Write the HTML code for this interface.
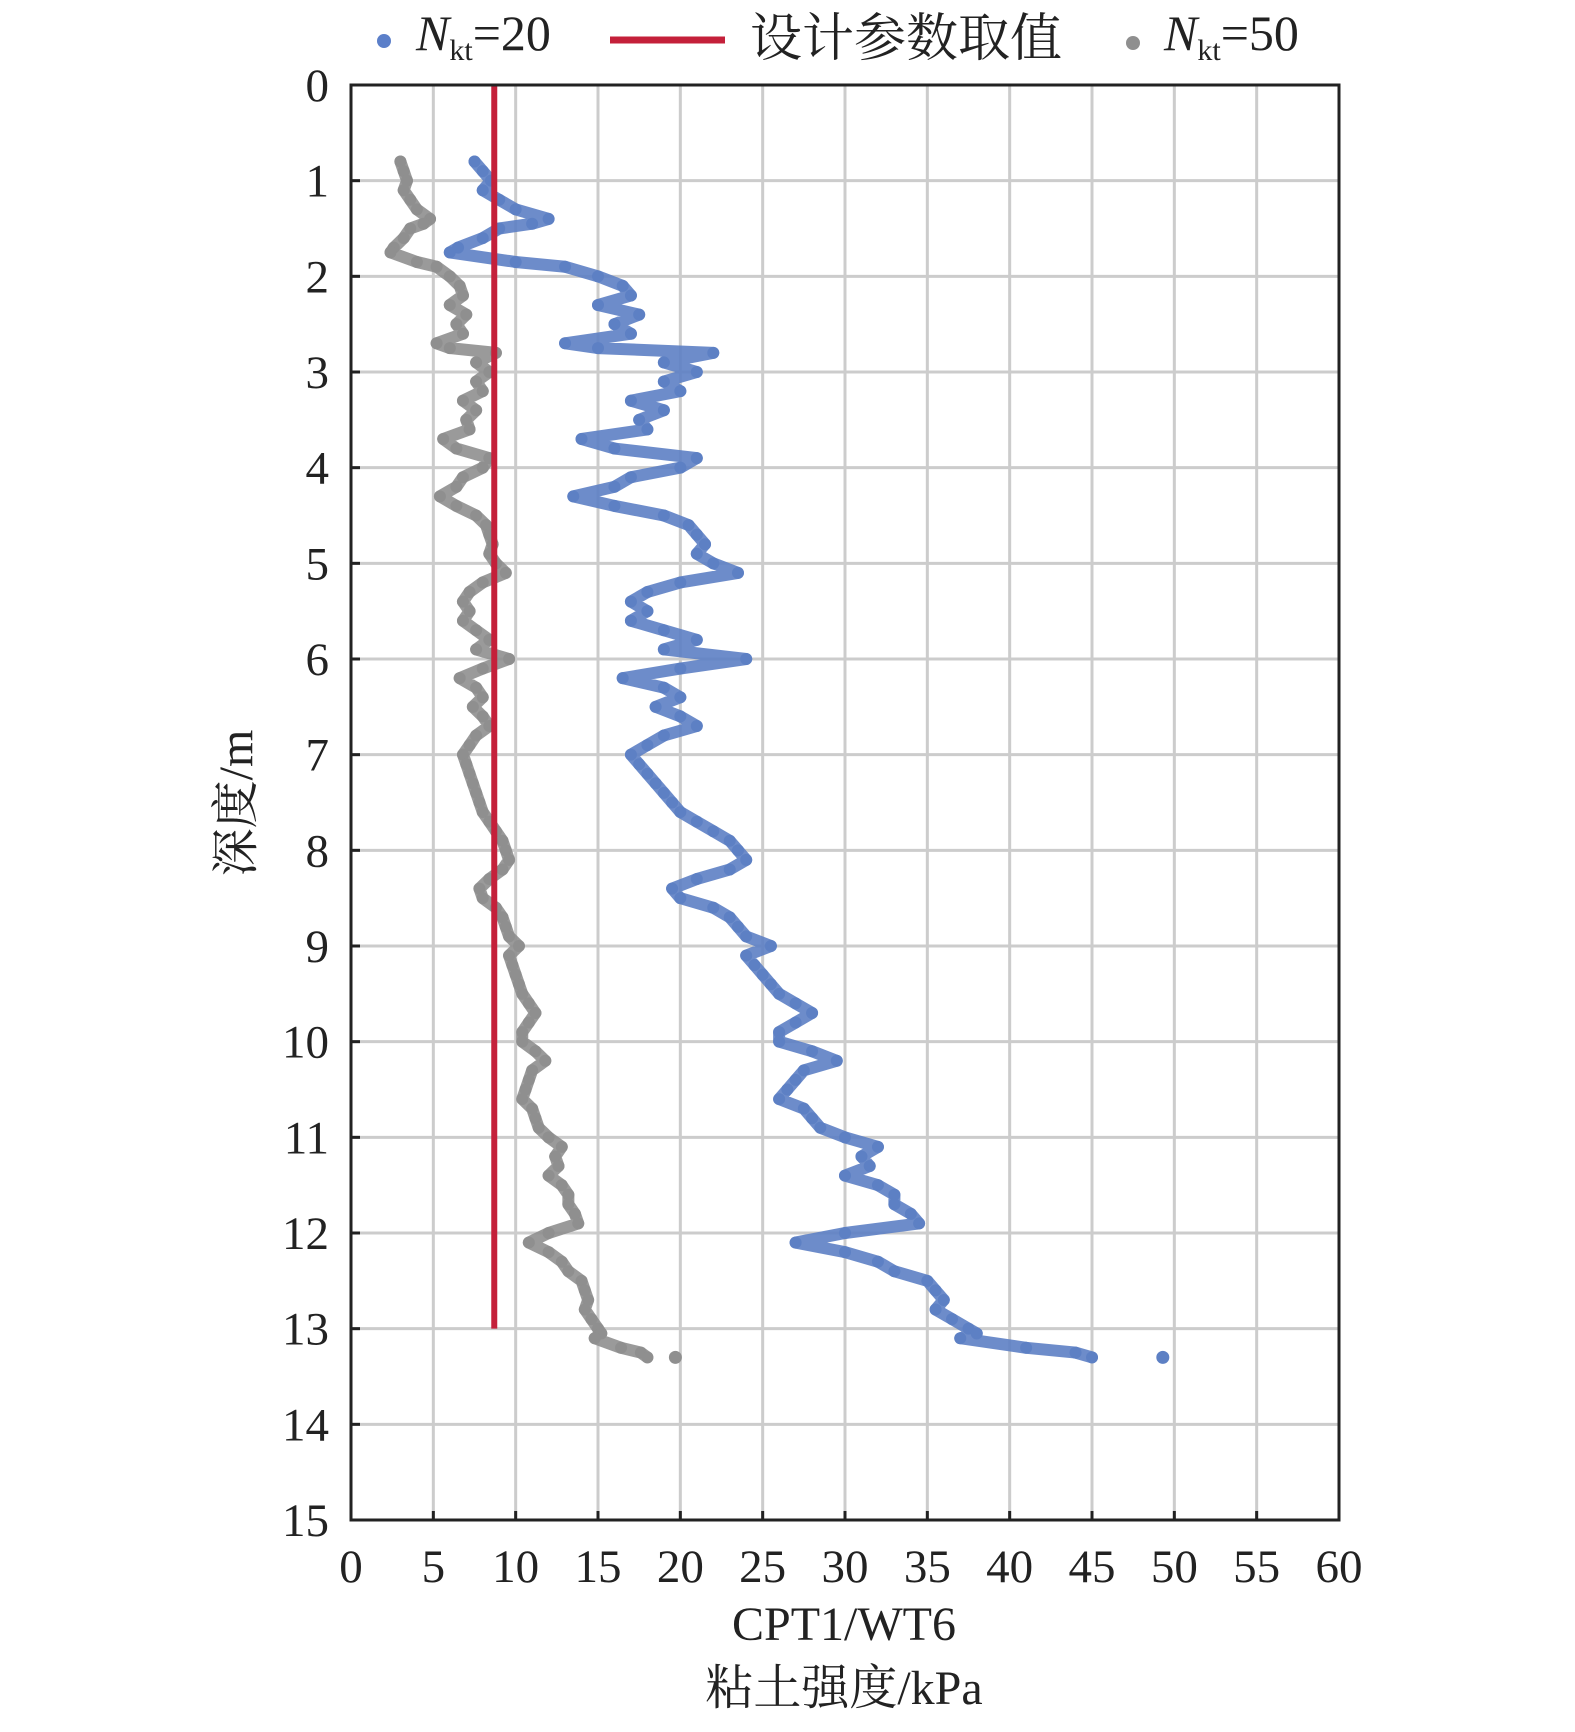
<!DOCTYPE html>
<html><head><meta charset="utf-8">
<style>
html,body{margin:0;padding:0;background:#fff;}
svg{display:block;}
svg text{font-family:"Liberation Serif","Noto Serif CJK SC",serif;}
</style></head>
<body>
<svg id="chart" width="1575" height="1732" viewBox="0 0 1575 1732" xmlns="http://www.w3.org/2000/svg">
<g id="grid"></g>
<g id="series"></g>
<g id="axes"></g>
<g id="legend">
  <circle cx="384" cy="41" r="7" fill="#5b7fc9"/>
  <text x="416" y="50" font-size="50" fill="#222"><tspan font-style="italic">N</tspan><tspan font-size="30" dy="10">kt</tspan><tspan dy="-10">=20</tspan></text>
  <line x1="610" y1="40" x2="725" y2="40" stroke="#c4203a" stroke-width="7"/>
  <text x="750" y="56" font-size="52" fill="#222">设计参数取值</text>
  <circle cx="1133" cy="43" r="7" fill="#8f8f8f"/>
  <text x="1164" y="50" font-size="50" fill="#222"><tspan font-style="italic">N</tspan><tspan font-size="30" dy="10">kt</tspan><tspan dy="-10">=50</tspan></text>
</g>
<text x="844" y="1640" font-size="48" text-anchor="middle" fill="#222">CPT1/WT6</text>
<text x="844" y="1704" font-size="48" text-anchor="middle" fill="#222">粘土强度/kPa</text>
<text transform="translate(252,803) rotate(-90)" font-size="48" text-anchor="middle" fill="#222">深度/m</text>
</svg>
<script>
const depths = [0.8,0.9,1.0,1.1,1.2,1.3,1.4,1.45,1.5,1.6,1.7,1.75,1.85,1.9,2.0,2.1,2.2,2.3,2.4,2.5,2.6,2.7,2.75,2.8,2.9,3.0,3.1,3.2,3.3,3.4,3.5,3.6,3.7,3.8,3.9,4.0,4.1,4.2,4.3,4.4,4.5,4.6,4.7,4.8,4.9,5.0,5.1,5.2,5.3,5.4,5.5,5.6,5.7,5.8,5.9,6.0,6.1,6.2,6.3,6.4,6.5,6.6,6.7,6.8,6.9,7.0,7.1,7.2,7.3,7.4,7.5,7.6,7.7,7.8,7.9,8.0,8.1,8.2,8.3,8.4,8.5,8.6,8.7,8.8,8.9,9.0,9.1,9.2,9.3,9.4,9.5,9.6,9.7,9.8,9.9,10.0,10.1,10.2,10.3,10.4,10.5,10.6,10.7,10.8,10.9,11.0,11.1,11.2,11.3,11.4,11.5,11.6,11.7,11.8,11.9,12.0,12.1,12.2,12.3,12.4,12.5,12.6,12.7,12.8,12.9,13.0,13.05,13.1,13.2,13.25,13.3];
const nkt20 = [7.5,8,8.5,8,9,10,12,11,9,8,6.5,6,10,13,15,16.5,17,15,17.5,16,17,13,15,22,19,21,19,20,17,19,17.5,18,14,16,21,20,17,16,13.5,16,19,20.5,21,21.5,21,22,23.5,20,18,17,18,17,19,21,19,24,20,16.5,19,20,18.5,20,21,19,18,17,17.5,18,18.5,19,19.5,20,21,22,23,23.5,24,23,21,19.5,20,22,23,23.5,24,25.5,24,24.5,25,25.5,26,27,28,27,26,26,28,29.5,27.5,27,26.5,26,27.5,28,28.5,30,32,31,31.5,30,32,33,33,34,34.5,30,27,30,32,33,35,35.5,36,35.5,36.5,37.5,38,37,41,44,45];
const nkt50 = [3.0,3.2,3.4,3.2,3.6,4.0,4.8,4.4,3.6,3.2,2.6,2.4,4.0,5.2,6.0,6.6,6.8,6.0,7.0,6.4,6.8,5.2,6.0,8.8,7.6,8.4,7.6,8.0,6.8,7.6,7.0,7.2,5.6,6.4,8.4,8.0,6.8,6.4,5.4,6.4,7.6,8.2,8.4,8.6,8.4,8.8,9.4,8.0,7.2,6.8,7.2,6.8,7.6,8.4,7.6,9.6,8.0,6.6,7.6,8.0,7.4,8.0,8.4,7.6,7.2,6.8,7.0,7.2,7.4,7.6,7.8,8.0,8.4,8.8,9.2,9.4,9.6,9.2,8.4,7.8,8.0,8.8,9.2,9.4,9.6,10.2,9.6,9.8,10.0,10.2,10.4,10.8,11.2,10.8,10.4,10.4,11.2,11.8,11.0,10.8,10.6,10.4,11.0,11.2,11.4,12.0,12.8,12.4,12.6,12.0,12.8,13.2,13.2,13.6,13.8,12.0,10.8,12.0,12.8,13.2,14.0,14.2,14.4,14.2,14.6,15.0,15.2,14.8,16.4,17.6,18.0];
const outlierDepths = [13.3];
const nkt20Outliers = [49.3];
const nkt50Outliers = [19.7];
const designValue = [8.7];
const designDepthRange = [0, 13];
const xTicks = [0,5,10,15,20,25,30,35,40,45,50,55,60];
const yTicks = [0,1,2,3,4,5,6,7,8,9,10,11,12,13,14,15];

const L=351,R=1339,T=85,B=1520;
const xs=v=>L+(v-0)/(60-0)*(R-L);
const ys=d=>T+(d-0)/(15-0)*(B-T);
const NS="http://www.w3.org/2000/svg";
function mk(tag,parent,attrs){const e=document.createElementNS(NS,tag);for(const k in attrs)e.setAttribute(k,attrs[k]);parent.appendChild(e);return e;}
const grid=document.getElementById('grid'),series=document.getElementById('series'),axes=document.getElementById('axes');

xTicks.forEach(t=>{
  const l=mk('line',grid,{x1:xs(t),x2:xs(t),y1:T,y2:B,stroke:'#cccccc','stroke-width':3});
  
  
  const tx=mk('text',axes,{x:xs(t),y:1582,'font-size':47,'text-anchor':'middle',fill:'#222'});
  tx.textContent=t;
  
  
  const tk=mk('line',axes,{x1:xs(t),x2:xs(t),y1:B,y2:B-9,stroke:'#222','stroke-width':3});
  
  
});
yTicks.forEach(t=>{
  const l=mk('line',grid,{x1:L,x2:R,y1:ys(t),y2:ys(t),stroke:'#cccccc','stroke-width':3});
  
  
  const tx=mk('text',axes,{x:329,y:ys(t)+16,'font-size':47,'text-anchor':'end',fill:'#222'});
  tx.textContent=t;
  
  
  const tk=mk('line',axes,{x1:L,x2:L+9,y1:ys(t),y2:ys(t),stroke:'#222','stroke-width':3});
  
  
});
const frame=mk('rect',axes,{x:L,y:T,width:R-L,height:B-T,fill:'none',stroke:'#222','stroke-width':3});



function drawSeries(vals,color,name,outVals){
  const pts=vals.map((v,i)=>xs(v)+','+ys(depths[i])).join(' ');
  const pl=mk('polyline',series,{points:pts,fill:'none',stroke:color,'stroke-width':12,'stroke-linejoin':'round','stroke-linecap':'round','stroke-opacity':0.9});
  
  
  vals.forEach((v,i)=>{
    const c=mk('circle',series,{cx:xs(v),cy:ys(depths[i]),r:6,fill:color});
    
    
  });
  outVals.forEach((v,i)=>{
    const c=mk('circle',series,{cx:xs(v),cy:ys(outlierDepths[i]),r:6.5,fill:color});
    
    
  });
}
drawSeries(nkt50,'#8f8f8f','nkt50',nkt50Outliers);
drawSeries(nkt20,'#5d80c4','nkt20',nkt20Outliers);
const dl=mk('line',series,{x1:xs(designValue[0]),x2:xs(designValue[0]),y1:ys(designDepthRange[0]),y2:ys(designDepthRange[1]),stroke:'#c4203a','stroke-width':6});


</script>
</body></html>
